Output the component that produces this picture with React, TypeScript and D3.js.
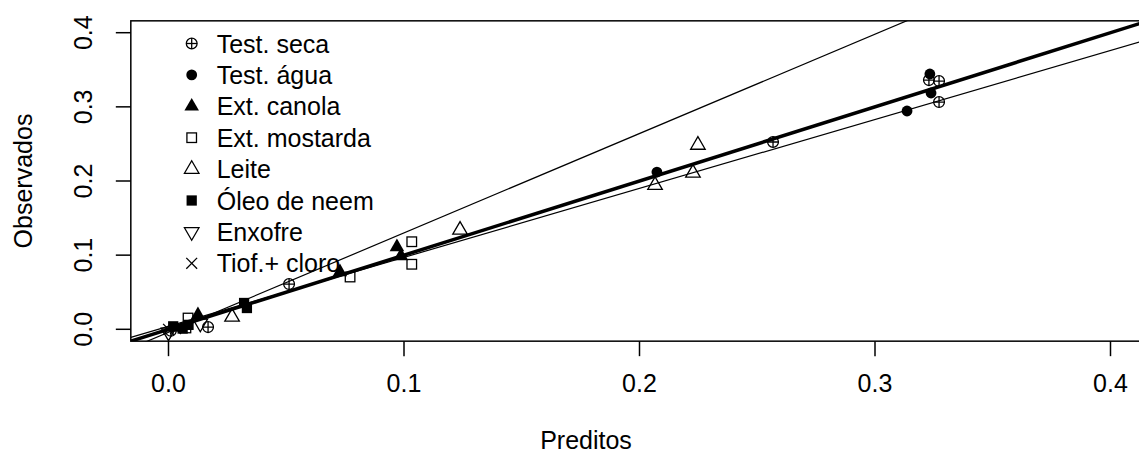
import React from "react";
import * as d3 from "d3";

// ---------- data ----------
const treatments = [
  "Test. seca",
  "Test. água",
  "Ext. canola",
  "Ext. mostarda",
  "Leite",
  "Óleo de neem",
  "Enxofre",
  "Tiof.+ cloro",
];
const symbolKinds = ["circplus", "dot", "tri", "sq", "otri", "fsq", "dtri", "cross"];

const testSecaX = [0.001, 0.0168, 0.0512, 0.2567, 0.3229, 0.3272, 0.3272];
const testSecaY = [-0.002, 0.003, 0.061, 0.2526, 0.3361, 0.3348, 0.3065];
const testAguaX = [0.2074, 0.3136, 0.3233, 0.3238];
const testAguaY = [0.2121, 0.2944, 0.3443, 0.3187];
const canolaX = [0.0125, 0.0728, 0.097, 0.0987];
const canolaY = [0.0193, 0.0773, 0.111, 0.0989];
const mostardaX = [0.0074, 0.0083, 0.0771, 0.1033, 0.1033];
const mostardaY = [0.0018, 0.0152, 0.0705, 0.1181, 0.0877];
const leiteX = [0.027, 0.1238, 0.2066, 0.2227, 0.2248];
const leiteY = [0.0166, 0.1339, 0.1943, 0.2108, 0.2485];
const neemX = [0.002, 0.006, 0.0085, 0.0321, 0.0333];
const neemY = [0.004, 0.001, 0.006, 0.0355, 0.0287];
const enxofreX = [0.0, 0.0135];
const enxofreY = [-0.004, 0.008];
const tiofX = [0.0, 0.003];
const tiofY = [0.0, 0.001];

const seriesX = [testSecaX, testAguaX, canolaX, mostardaX, leiteX, neemX, enxofreX, tiofX];
const seriesY = [testSecaY, testAguaY, canolaY, mostardaY, leiteY, neemY, enxofreY, tiofY];

// reference lines
const lineIntercepts = [0.0, -0.004, 0.004];
const lineSlopes = [1.0, 1.34, 0.93];

const xTicks = [0, 0.1, 0.2, 0.3, 0.4];
const yTicks = [0, 0.1, 0.2, 0.3, 0.4];

// ---------- layout ----------
const W = 1139;
const H = 464;
const FONT = "'Liberation Sans', Arial, sans-serif";
const FS = 25;
const R = 5.4;

const x = d3.scaleLinear().domain([0, 0.4]).range([168.5, 1110.5]);
const y = d3.scaleLinear().domain([0, 0.4]).range([329.3, 32.7]);
const ext = 0.016;
const left = x(-ext);
const right = x(0.4 + ext);
const top = y(0.4 + ext);
const bottom = y(-ext);

function Sym({ kind, cx, cy }: { kind: string; cx: number; cy: number }) {
  const sw = 1.3;
  const t0 = 1.5551 * R;
  const t1 = 1.3468 * R;
  const t2 = 0.7776 * R;
  switch (kind) {
    case "circplus":
      return (
        <g stroke="#000" strokeWidth={sw} fill="none">
          <circle cx={cx} cy={cy} r={R} />
          <line x1={cx - R} x2={cx + R} y1={cy} y2={cy} />
          <line x1={cx} x2={cx} y1={cy - R} y2={cy + R} />
        </g>
      );
    case "dot":
      return <circle cx={cx} cy={cy} r={R} fill="#000" />;
    case "tri":
      return (
        <polygon
          points={`${cx},${cy - t0} ${cx + t1},${cy + t2} ${cx - t1},${cy + t2}`}
          fill="#000"
        />
      );
    case "otri":
      return (
        <polygon
          points={`${cx},${cy - t0} ${cx + t1},${cy + t2} ${cx - t1},${cy + t2}`}
          fill="none"
          stroke="#000"
          strokeWidth={sw}
        />
      );
    case "dtri":
      return (
        <polygon
          points={`${cx},${cy + t0} ${cx + t1},${cy - t2} ${cx - t1},${cy - t2}`}
          fill="none"
          stroke="#000"
          strokeWidth={sw}
        />
      );
    case "sq": {
      const h = 0.886 * R;
      return (
        <rect x={cx - h} y={cy - h} width={2 * h} height={2 * h} fill="none" stroke="#000" strokeWidth={sw} />
      );
    }
    case "fsq": {
      const h = 0.95 * R;
      return <rect x={cx - h} y={cy - h} width={2 * h} height={2 * h} fill="#000" />;
    }
    case "cross":
      return (
        <g stroke="#000" strokeWidth={sw}>
          <line x1={cx - R} y1={cy - R} x2={cx + R} y2={cy + R} />
          <line x1={cx - R} y1={cy + R} x2={cx + R} y2={cy - R} />
        </g>
      );
    default:
      return null;
  }
}

export default function App() {
  const lineWidths = [3.5, 1.2, 1.2];
  return (
    <svg
      width={W}
      height={H}
      style={{ position: "absolute", left: 0, top: 0, background: "#fff" }}
      fontFamily={FONT}
    >
      <defs>
        <clipPath id="plotclip">
          <rect x={left} y={top} width={right - left} height={bottom - top} />
        </clipPath>
      </defs>
      <rect x={0} y={0} width={W} height={H} fill="#fff" />

      {/* reference lines */}
      <g clipPath="url(#plotclip)">
        {lineSlopes.map((b, i) => {
          const a = lineIntercepts[i];
          const x0 = -ext;
          const x1 = 0.4 + ext + 0.05;
          return (
            <line
              key={i}
              x1={x(x0)}
              y1={y(a + b * x0)}
              x2={x(x1)}
              y2={y(a + b * x1)}
              stroke="#000"
              strokeWidth={lineWidths[i]}
            />
          );
        })}
        {/* points */}
        {seriesX.map((xs, si) =>
          xs.map((xv, j) => (
            <Sym key={`${si}-${j}`} kind={symbolKinds[si]} cx={x(xv)} cy={y(seriesY[si][j])} />
          ))
        )}
      </g>

      {/* box */}
      <rect x={left} y={top} width={right - left} height={bottom - top} fill="none" stroke="#000" strokeWidth={1.5} />

      {/* x axis */}
      <g>
        {xTicks.map((t) => (
          <g key={t}>
            <line x1={x(t)} x2={x(t)} y1={bottom} y2={bottom + 15} stroke="#000" strokeWidth={1.5} />
            <text x={x(t)} y={392} fontSize={FS} textAnchor="middle" fill="#000">
              {d3.format(".1f")(t)}
            </text>
          </g>
        ))}
      </g>
      {/* y axis */}
      <g>
        {yTicks.map((t) => (
          <g key={t}>
            <line x1={left - 15} x2={left} y1={y(t)} y2={y(t)} stroke="#000" strokeWidth={1.5} />
            <text
              transform={`translate(92,${y(t)}) rotate(-90)`}
              fontSize={FS}
              textAnchor="middle"
              fill="#000"
            >
              {d3.format(".1f")(t)}
            </text>
          </g>
        ))}
      </g>

      <text x={586} y={449} fontSize={FS} textAnchor="middle" fill="#000">
        Preditos
      </text>
      <text
        transform={`translate(32,${(top + bottom) / 2}) rotate(-90)`}
        fontSize={FS}
        textAnchor="middle"
        fill="#000"
      >
        Observados
      </text>

      {/* legend */}
      <g>
        {treatments.map((name, i) => {
          const cy = 43.5 + i * 31.4;
          return (
            <g key={name}>
              <Sym kind={symbolKinds[i]} cx={191.7} cy={cy} />
              <text x={216.7} y={cy + 9} fontSize={FS} fill="#000">
                {name}
              </text>
            </g>
          );
        })}
      </g>
    </svg>
  );
}
